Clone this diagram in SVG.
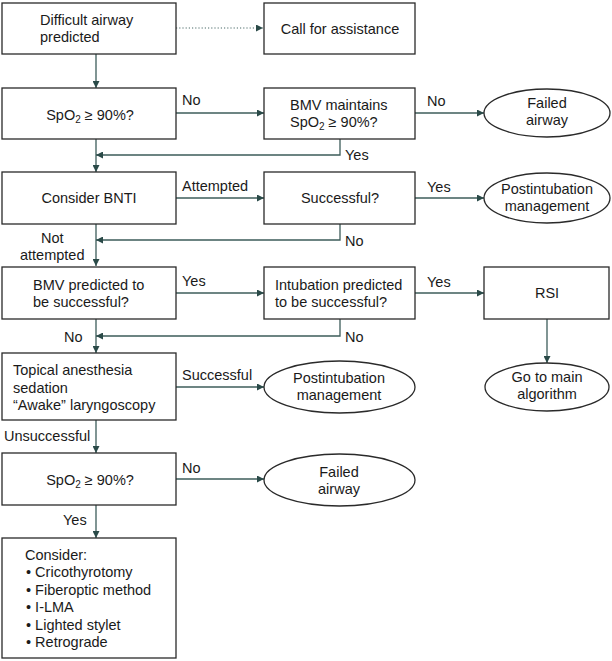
<svg xmlns="http://www.w3.org/2000/svg" width="612" height="661" viewBox="0 0 612 661">
<defs>
<style>
.box{fill:#fff;stroke:#2a2a2a;stroke-width:1.3}
.t{font-family:"Liberation Sans",Arial,sans-serif;font-size:14.5px;fill:#1a1a1a}
.c{text-anchor:middle}
.ln{fill:none;stroke:#3d5c5a;stroke-width:1.3}
.dot{fill:none;stroke:#4a6a68;stroke-width:1.2;stroke-dasharray:1.2,2}
.sub{font-size:10px}
</style>
<marker id="ah" viewBox="0 0 10 10" refX="10" refY="5" markerWidth="7" markerHeight="7" markerUnits="userSpaceOnUse" orient="auto">
<path d="M0,0 L10,5 L0,10 z" fill="#2a4a48"/>
</marker>
</defs>
<rect width="612" height="661" fill="#fff"/>

<g id="connectors">
<line class="dot" x1="176" y1="28" x2="263" y2="28" marker-end="url(#ah)"/>
<line class="ln" x1="96" y1="54" x2="96" y2="88" marker-end="url(#ah)"/>
<line class="ln" x1="176" y1="113" x2="264" y2="113" marker-end="url(#ah)"/>
<line class="ln" x1="415" y1="113" x2="484" y2="113" marker-end="url(#ah)"/>
<line class="ln" x1="96" y1="139" x2="96" y2="172" marker-end="url(#ah)"/>
<polyline class="ln" points="340,139 340,155 96,155" marker-end="url(#ah)"/>
<line class="ln" x1="176" y1="198" x2="264" y2="198" marker-end="url(#ah)"/>
<line class="ln" x1="415" y1="198" x2="484" y2="198" marker-end="url(#ah)"/>
<line class="ln" x1="96" y1="224" x2="96" y2="266" marker-end="url(#ah)"/>
<polyline class="ln" points="340,224 340,240 96,240" marker-end="url(#ah)"/>
<line class="ln" x1="176" y1="293" x2="264" y2="293" marker-end="url(#ah)"/>
<line class="ln" x1="415" y1="293" x2="484" y2="293" marker-end="url(#ah)"/>
<line class="ln" x1="547" y1="319" x2="547" y2="363" marker-end="url(#ah)"/>
<line class="ln" x1="96" y1="319" x2="96" y2="353" marker-end="url(#ah)"/>
<polyline class="ln" points="340,319 340,336 96,336" marker-end="url(#ah)"/>
<line class="ln" x1="176" y1="387" x2="264" y2="387" marker-end="url(#ah)"/>
<line class="ln" x1="96" y1="420" x2="96" y2="453" marker-end="url(#ah)"/>
<line class="ln" x1="176" y1="479" x2="264" y2="479" marker-end="url(#ah)"/>
<line class="ln" x1="96" y1="505" x2="96" y2="538" marker-end="url(#ah)"/>
</g>

<g id="labels">
<text class="t" x="182" y="105">No</text>
<text class="t" x="427" y="106">No</text>
<text class="t" x="345" y="160">Yes</text>
<text class="t" x="182" y="191">Attempted</text>
<text class="t" x="427" y="192">Yes</text>
<text class="t" x="41" y="243">Not</text>
<text class="t" x="20" y="260">attempted</text>
<text class="t" x="345" y="246">No</text>
<text class="t" x="182" y="286">Yes</text>
<text class="t" x="427" y="287">Yes</text>
<text class="t" x="64" y="342">No</text>
<text class="t" x="345" y="342">No</text>
<text class="t" x="182" y="380">Successful</text>
<text class="t" x="4" y="441">Unsuccessful</text>
<text class="t" x="182" y="473">No</text>
<text class="t" x="63" y="525">Yes</text>
</g>

<g id="n-difficult">
<rect class="box" x="2" y="3" width="174" height="51"/>
<text class="t" x="40" y="25">Difficult airway</text>
<text class="t" x="40" y="42">predicted</text>
</g>
<g id="n-call">
<rect class="box" x="264" y="3" width="151" height="51"/>
<text class="t c" x="340" y="34">Call for assistance</text>
</g>
<g id="n-spo2-1">
<rect class="box" x="2" y="88" width="174" height="51"/>
<text class="t c" x="90" y="120">SpO<tspan class="sub" dy="3">2</tspan><tspan dy="-3"> ≥ 90%?</tspan></text>
</g>
<g id="n-bmv-maintains">
<rect class="box" x="264" y="88" width="151" height="51"/>
<text class="t" x="290" y="110">BMV maintains</text>
<text class="t" x="290" y="127">SpO<tspan class="sub" dy="3">2</tspan><tspan dy="-3"> ≥ 90%?</tspan></text>
</g>
<g id="n-failed-1">
<ellipse class="box" cx="547" cy="113" rx="63" ry="24"/>
<text class="t c" x="547" y="108">Failed</text>
<text class="t c" x="547" y="125">airway</text>
</g>
<g id="n-bnti">
<rect class="box" x="2" y="172" width="174" height="52"/>
<text class="t c" x="89" y="203">Consider BNTI</text>
</g>
<g id="n-successful">
<rect class="box" x="264" y="172" width="151" height="52"/>
<text class="t c" x="340" y="203">Successful?</text>
</g>
<g id="n-post-1">
<ellipse class="box" cx="547" cy="198" rx="63" ry="25"/>
<text class="t c" x="547" y="194">Postintubation</text>
<text class="t c" x="547" y="211">management</text>
</g>
<g id="n-bmv-predicted">
<rect class="box" x="2" y="267" width="174" height="52"/>
<text class="t" x="33" y="290">BMV predicted to</text>
<text class="t" x="33" y="307">be successful?</text>
</g>
<g id="n-intubation">
<rect class="box" x="264" y="267" width="151" height="52"/>
<text class="t" x="275" y="290">Intubation predicted</text>
<text class="t" x="275" y="307">to be successful?</text>
</g>
<g id="n-rsi">
<rect class="box" x="484" y="267" width="125" height="52"/>
<text class="t c" x="547" y="298">RSI</text>
</g>
<g id="n-topical">
<rect class="box" x="2" y="353" width="174" height="67"/>
<text class="t" x="13" y="375">Topical anesthesia</text>
<text class="t" x="13" y="393">sedation</text>
<text class="t" x="13" y="410">“Awake” laryngoscopy</text>
</g>
<g id="n-post-2">
<ellipse class="box" cx="339.5" cy="387" rx="75.5" ry="26"/>
<text class="t c" x="339" y="383">Postintubation</text>
<text class="t c" x="339" y="400">management</text>
</g>
<g id="n-main">
<ellipse class="box" cx="547" cy="387" rx="62" ry="24"/>
<text class="t c" x="547" y="382">Go to main</text>
<text class="t c" x="547" y="399">algorithm</text>
</g>
<g id="n-spo2-2">
<rect class="box" x="2" y="453" width="174" height="52"/>
<text class="t c" x="90" y="485">SpO<tspan class="sub" dy="3">2</tspan><tspan dy="-3"> ≥ 90%?</tspan></text>
</g>
<g id="n-failed-2">
<ellipse class="box" cx="339.5" cy="480" rx="75.5" ry="26"/>
<text class="t c" x="339" y="477">Failed</text>
<text class="t c" x="339" y="494">airway</text>
</g>
<g id="n-consider">
<rect class="box" x="2" y="538" width="174" height="120"/>
<text class="t" x="25" y="560">Consider:</text>
<text class="t" x="26" y="577">• Cricothyrotomy</text>
<text class="t" x="26" y="595">• Fiberoptic method</text>
<text class="t" x="26" y="612">• I-LMA</text>
<text class="t" x="26" y="630">• Lighted stylet</text>
<text class="t" x="26" y="647">• Retrograde</text>
</g>
</svg>
